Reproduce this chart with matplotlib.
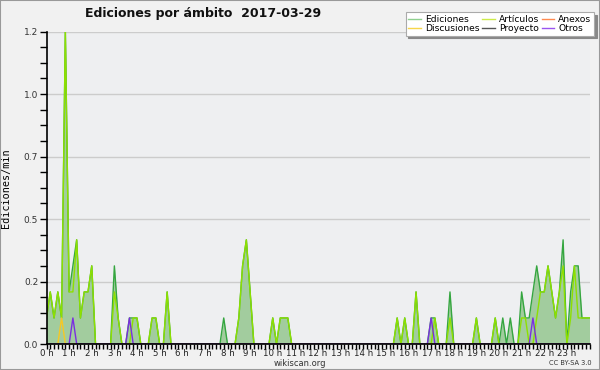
import numpy as np
import matplotlib
matplotlib.use("Agg")
import matplotlib.pyplot as plt
from matplotlib.lines import Line2D
from matplotlib.patches import Rectangle

# --- Data: edits/min in 10-minute slots, one row per hour (slot 144 = 24 h) ---
ediciones = [
    0.1, 0.2, 0.1, 0.2, 0.1, 1.2,   # 0 h
    0.2, 0.3, 0.4, 0.1, 0.2, 0.2,   # 1 h
    0.3, 0.0, 0.0, 0.0, 0.0, 0.0,   # 2 h
    0.3, 0.1, 0.0, 0.0, 0.1, 0.1,   # 3 h
    0.1, 0.0, 0.0, 0.0, 0.1, 0.1,   # 4 h
    0.0, 0.0, 0.2, 0.0, 0.0, 0.0,   # 5 h
    0.0, 0.0, 0.0, 0.0, 0.0, 0.0,   # 6 h
    0.0, 0.0, 0.0, 0.0, 0.0, 0.1,   # 7 h
    0.0, 0.0, 0.0, 0.1, 0.3, 0.4,   # 8 h
    0.2, 0.0, 0.0, 0.0, 0.0, 0.0,   # 9 h
    0.1, 0.0, 0.1, 0.1, 0.1, 0.0,   # 10 h
    0.0, 0.0, 0.0, 0.0, 0.0, 0.0,   # 11 h
    0.0, 0.0, 0.0, 0.0, 0.0, 0.0,   # 12 h
    0.0, 0.0, 0.0, 0.0, 0.0, 0.0,   # 13 h
    0.0, 0.0, 0.0, 0.0, 0.0, 0.0,   # 14 h
    0.0, 0.0, 0.0, 0.1, 0.0, 0.1,   # 15 h
    0.0, 0.0, 0.2, 0.0, 0.0, 0.0,   # 16 h
    0.1, 0.1, 0.0, 0.0, 0.0, 0.2,   # 17 h
    0.0, 0.0, 0.0, 0.0, 0.0, 0.0,   # 18 h
    0.1, 0.0, 0.0, 0.0, 0.0, 0.1,   # 19 h
    0.0, 0.1, 0.0, 0.1, 0.0, 0.0,   # 20 h
    0.2, 0.1, 0.1, 0.2, 0.3, 0.2,   # 21 h
    0.2, 0.3, 0.2, 0.1, 0.2, 0.4,   # 22 h
    0.0, 0.2, 0.3, 0.3, 0.1, 0.1,   # 23 h
    0.1,
]

articulos = [
    0.1, 0.2, 0.1, 0.2, 0.1, 1.2,
    0.2, 0.2, 0.4, 0.1, 0.2, 0.2,
    0.3, 0.0, 0.0, 0.0, 0.0, 0.0,
    0.2, 0.1, 0.0, 0.0, 0.0, 0.1,
    0.1, 0.0, 0.0, 0.0, 0.1, 0.1,
    0.0, 0.0, 0.2, 0.0, 0.0, 0.0,
    0.0, 0.0, 0.0, 0.0, 0.0, 0.0,
    0.0, 0.0, 0.0, 0.0, 0.0, 0.0,
    0.0, 0.0, 0.0, 0.1, 0.3, 0.4,
    0.2, 0.0, 0.0, 0.0, 0.0, 0.0,
    0.1, 0.0, 0.1, 0.1, 0.1, 0.0,
    0.0, 0.0, 0.0, 0.0, 0.0, 0.0,
    0.0, 0.0, 0.0, 0.0, 0.0, 0.0,
    0.0, 0.0, 0.0, 0.0, 0.0, 0.0,
    0.0, 0.0, 0.0, 0.0, 0.0, 0.0,
    0.0, 0.0, 0.0, 0.1, 0.0, 0.1,
    0.0, 0.0, 0.2, 0.0, 0.0, 0.0,
    0.0, 0.1, 0.0, 0.0, 0.0, 0.1,
    0.0, 0.0, 0.0, 0.0, 0.0, 0.0,
    0.1, 0.0, 0.0, 0.0, 0.0, 0.1,
    0.0, 0.0, 0.0, 0.0, 0.0, 0.0,
    0.1, 0.1, 0.0, 0.0, 0.1, 0.2,
    0.2, 0.3, 0.2, 0.1, 0.2, 0.3,
    0.0, 0.1, 0.3, 0.1, 0.1, 0.1,
    0.1,
]

# sparse series: (slot, value)
discusiones = [(4, 0.1)]
otros = [(7, 0.1), (22, 0.1), (102, 0.1), (129, 0.1)]
anexos = []
proyecto = []

hour_labels = [f"{h} h" for h in range(24)]
y_ticks = [0.0, 0.24, 0.48, 0.72, 0.96, 1.2]

# --- Colors ---
C_ED_LINE = "#35a640"
C_ED_FILL = "#a2cc9e"
C_ART = "#8ee000"
C_ANE = "#ff8a50"
C_DIS = "#f5c825"
C_PRO = "#555555"
C_OTR = "#7a2fe0"

n = len(ediciones)
x = np.arange(n) / 6.0


def sparse(points):
    arr = np.zeros(n)
    for i, v in points:
        arr[i] = v
    return arr


fig = plt.figure(figsize=(6, 3.7), dpi=100)
fig.patch.set_facecolor("#f1f1f1")
ax = fig.add_axes([46.5 / 600, 1 - 344 / 370, (589.5 - 46.5) / 600, (344 - 31.5) / 370])
ax.set_facecolor("#eeeff1")

ax.fill_between(x, ediciones, 0, color=C_ED_FILL, lw=0, zorder=1)
ax.plot(x, ediciones, color=C_ED_LINE, lw=1.0, zorder=2)
ax.plot(x, articulos, color=C_ART, lw=1.0, zorder=2.1)
ax.plot(x, sparse(anexos), color=C_ANE, lw=1.0, zorder=2.2)
ax.plot(x, sparse(discusiones), color=C_DIS, lw=1.0, zorder=2.2)
ax.plot(x, sparse(proyecto), color=C_PRO, lw=1.0, zorder=2.2)
ax.plot(x, sparse(otros), color=C_OTR, lw=1.0, zorder=2.3)

ax.set_xlim(0, 24)
ax.set_ylim(0, 1.2)

# --- Axes / ticks ---
ax.set_xticks(range(24))
ax.set_xticklabels(hour_labels, fontsize=6.2, color="#222222")
ax.set_xticks(np.arange(0, 24.01, 1 / 6), minor=True)
ax.tick_params(axis="x", which="both", length=3.5, width=1, pad=0, direction="out")
ax.set_yticks(y_ticks)
ax.set_yticklabels([f"{v:.1f}" for v in y_ticks], fontsize=6.5, color="#333333")
ax.set_yticks(np.arange(0, 1.21, 0.06), minor=True)
ax.tick_params(axis="y", which="both", length=5, width=1, pad=1, direction="out")

ax.yaxis.grid(True, color="#cccccc", lw=1, zorder=0)
ax.set_axisbelow(True)
for side in ("top", "right"):
    ax.spines[side].set_visible(False)
for side in ("left", "bottom"):
    ax.spines[side].set_color("black")
    ax.spines[side].set_linewidth(1.2)
    ax.spines[side].set_zorder(5)

ax.set_ylabel("Ediciones/min", fontsize=7.3, family="DejaVu Sans Mono")
ax.yaxis.set_label_coords(-0.066, 0.5)

# --- Title and footer ---
fig.text(85 / 600, 1 - 14 / 370, "Ediciones por ámbito  2017-03-29",
         fontsize=9, fontweight="bold", ha="left", va="center", color="#111111")
fig.text(300 / 600, 1 - 363 / 370, "wikiscan.org", fontsize=6, ha="center", va="center", color="#333333")
fig.text(592 / 600, 1 - 363 / 370, "CC BY-SA 3.0", fontsize=4.8, ha="right", va="center", color="#333333")

# --- Legend ---
handles = [
    Line2D([], [], color="#8fd08f", lw=1, label="Ediciones"),
    Line2D([], [], color="#f7d64a", lw=1, label="Discusiones"),
    Line2D([], [], color="#cdeb4a", lw=1, label="Artículos"),
    Line2D([], [], color="#555555", lw=1, label="Proyecto"),
    Line2D([], [], color=C_ANE, lw=1, label="Anexos"),
    Line2D([], [], color="#9a55f0", lw=1, label="Otros"),
]
leg = fig.legend(handles=handles, ncol=3, loc="upper right",
                 bbox_to_anchor=(594 / 600, 1 - 12 / 370), fontsize=6.6,
                 frameon=True, fancybox=False, shadow={"color": "#888888", "alpha": 1},
                 handlelength=1.4, handletextpad=0.4, columnspacing=0.3,
                 labelspacing=0.0, borderpad=0.3, borderaxespad=0)
leg.get_frame().set_facecolor("white")
leg.get_frame().set_edgecolor("#aaaaaa")
leg.get_frame().set_linewidth(0.8)

fig.patches.append(Rectangle((0, 0), 1, 1, transform=fig.transFigure, fill=False,
                             edgecolor="#999999", lw=1.5))

fig.savefig("out.png", dpi=100, facecolor=fig.get_facecolor())
